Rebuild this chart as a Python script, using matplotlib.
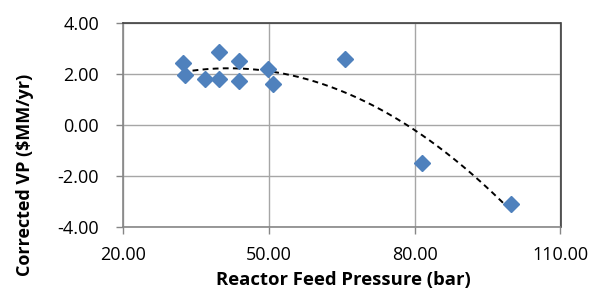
import matplotlib
matplotlib.use("Agg")
import matplotlib.pyplot as plt
import numpy as np

# reactor feed pressure (bar) and corrected VP ($MM/yr)
pressure = [32.3, 32.8, 36.9, 39.8, 39.8, 44.0, 44.0, 49.8, 50.8, 65.7, 81.6, 99.9]
vp = [2.45, 1.96, 1.80, 2.88, 1.80, 2.53, 1.73, 2.19, 1.61, 2.58, -1.49, -3.09]

x_ticks = [20, 50, 80, 110]
y_ticks = [-4, -2, 0, 2, 4]

plt.rcParams['font.family'] = ['Open Sans', 'DejaVu Sans']

fig = plt.figure(figsize=(5.9, 2.9), dpi=100)
ax = fig.add_axes([0.208, 0.218, 0.742, 0.702])

# 2nd order polynomial trendline
coef = np.polyfit(pressure, vp, 2)
xs = np.linspace(min(pressure), max(pressure), 200)
ax.plot(xs, np.polyval(coef, xs), linestyle=(0, (3, 2.2)), color='black', linewidth=1.4, zorder=2)

ax.plot(pressure, vp, linestyle='none', marker='D', markersize=8.5,
        color='#4F81BD', markeredgecolor='#4F81BD', zorder=3)

ax.set_xlim(20, 110)
ax.set_ylim(-4, 4)
ax.set_xticks(x_ticks)
ax.set_yticks(y_ticks)
ax.set_xticklabels(['%.2f' % v for v in x_ticks])
ax.set_yticklabels(['%.2f' % v for v in y_ticks])
ax.tick_params(labelsize=13, length=5, color='#868686', width=1)
ax.tick_params(axis='y', pad=12)
ax.tick_params(axis='x', pad=9)
ax.grid(True, color='#A6A6A6', linewidth=1)
ax.set_axisbelow(True)
for side in ax.spines.values():
    side.set_color('#404040')
    side.set_linewidth(1.2)
ax.spines['left'].set_color('#868686')
ax.spines['bottom'].set_color('#868686')

ax.set_xlabel('Reactor Feed Pressure (bar)', fontsize=13.3, fontweight='bold')
ax.set_ylabel('Corrected VP ($MM/yr)', fontsize=13, fontweight='bold')
ax.xaxis.set_label_coords(0.505, -0.218)
ax.yaxis.set_label_coords(-0.203, 0.253)

fig.savefig('out.png', dpi=100)
